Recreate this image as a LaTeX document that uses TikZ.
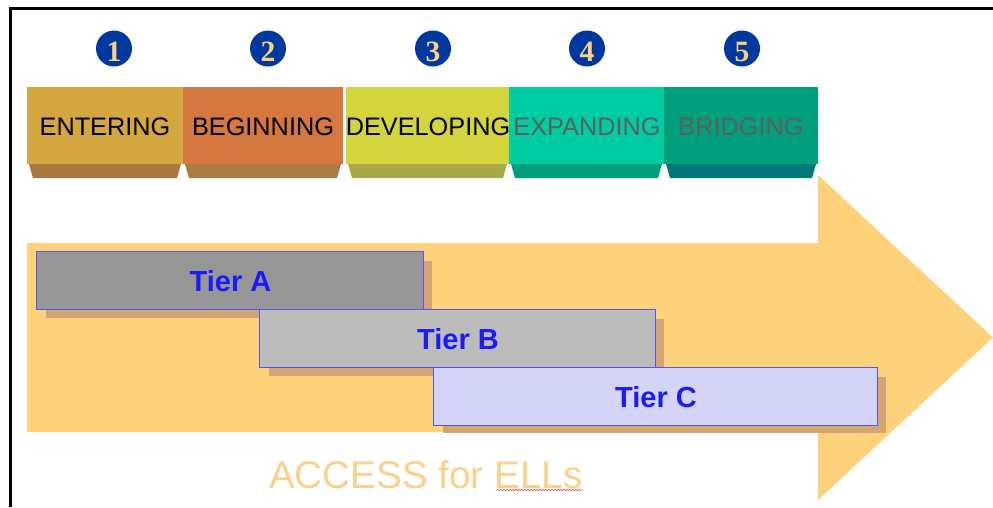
\documentclass[tikz,border=0pt]{standalone}
\usepackage{fontspec}
\setmainfont{Liberation Sans}
\newfontfamily\numfont{Liberation Serif}
\usetikzlibrary{decorations.pathmorphing}
\definecolor{arrowc}{HTML}{FDD27A}
\definecolor{shadowc}{HTML}{D4A472}
\definecolor{sA}{HTML}{D4A640}\definecolor{bA}{HTML}{A87840}
\definecolor{sB}{HTML}{D47840}\definecolor{bB}{HTML}{A87C44}
\definecolor{sC}{HTML}{D4D43C}\definecolor{bC}{HTML}{A8A844}
\definecolor{sD}{HTML}{00CCA4}\definecolor{bD}{HTML}{00A07C}
\definecolor{sE}{HTML}{00A07C}\definecolor{bE}{HTML}{007878}
\definecolor{numblue}{HTML}{0038A0}
\definecolor{numgold}{HTML}{FAD27C}
\definecolor{tierblue}{HTML}{1A1AFF}
\definecolor{tierline}{HTML}{5656E8}
\definecolor{titlec}{HTML}{FAD08C}
\definecolor{greytext}{HTML}{5E5E5E}
\tikzset{
  numcirc/.style={circle, fill=numblue, minimum size=36pt, inner sep=0pt},
  numtext/.style={font=\numfont\bfseries\fontsize{29.5}{30}\selectfont, text=numgold, anchor=base, inner sep=0pt},
  stagebox/.style={rectangle, anchor=north west, inner sep=0pt, minimum height=77pt},
  stagetext/.style={font=\fontsize{25.3}{30}\selectfont, anchor=base, inner sep=0pt},
  tierbox/.style={rectangle, anchor=north west, inner sep=0pt, draw=tierline, line width=1.2pt, minimum height=58pt},
  tiershadow/.style={fill=shadowc},
  tiertext/.style={font=\bfseries\fontsize{29}{30}\selectfont, text=tierblue, anchor=base, inner sep=0pt},
}
\begin{document}
\begin{tikzpicture}[x=1pt,y=-1pt]
\useasboundingbox (0,0) rectangle (993,507);
% frame
\draw[line width=3pt] (993,8.5) -- (10.5,8.5) -- (10.5,507);
% big arrow
\fill[arrowc] (27,243) -- (818,243) -- (818,175) -- (993,337.5) -- (818,500) -- (818,432) -- (27,432) -- cycle;
% numbers
\foreach \i/\x in {1/114,2/268,3/433,4/587,5/742}{
  \node[numcirc] (n\i) at (\x,48.5) {};
  \node[numtext] (nt\i) at (\x,61.5) {\i};
}
% stage boxes
\foreach \n/\xa/\xb/\fc/\bc in {s1/27/183/sA/bA, s2/183/343/sB/bB, s3/346/509/sC/bC, s4/509/664/sD/bD, s5/664/818/sE/bE}{
  \fill[\bc] (\xa+2,164) -- (\xb-2,164) -- (\xb-6,178) -- (\xa+6,178) -- cycle;
  \node[stagebox, fill=\fc, minimum width=\xb-\xa] (\n) at (\xa,87) {};
}
\node[stagetext] (t1) at (105,135) {ENTERING};
\node[stagetext] (t2) at (263,135) {BEGINNING};
\node[stagetext] (t3) at (428,135) {DEVELOPING};
\node[stagetext, text=greytext] (t4) at (587,135) {EXPANDING};
\node[stagetext, text=greytext] (t5) at (741,135) {BRIDGING};
% tiers: shadows
\fill[tiershadow] (46,261) rectangle (432,318);
\fill[tiershadow] (269,319) rectangle (664,376);
\fill[tiershadow] (443,377) rectangle (886,433);
\node[tierbox, fill={rgb,255:red,150;green,150;blue,150}, minimum width=387pt] (ta) at (36,251) {};
\node[tiertext] (tat) at (230.5,291) {Tier A};
\node[tierbox, fill={rgb,255:red,188;green,188;blue,188}, minimum width=396pt] (tb) at (259,309) {};
\node[tiertext] (tbt) at (458,349) {Tier B};
\node[tierbox, fill={rgb,255:red,212;green,212;blue,248}, minimum width=444pt] (tc) at (433,367) {};
\node[tiertext] (tct) at (656,407) {Tier C};
% title
\node[font=\fontsize{38.6}{40}\selectfont, text=titlec, anchor=base west, inner sep=0pt] (title) at (269,488) {ACCESS for ELLs};
\draw[red!70, line width=0.6pt, decorate, decoration={snake, amplitude=0.8pt, segment length=3pt}] (497,490) -- (582,490);
\end{tikzpicture}
\end{document}
